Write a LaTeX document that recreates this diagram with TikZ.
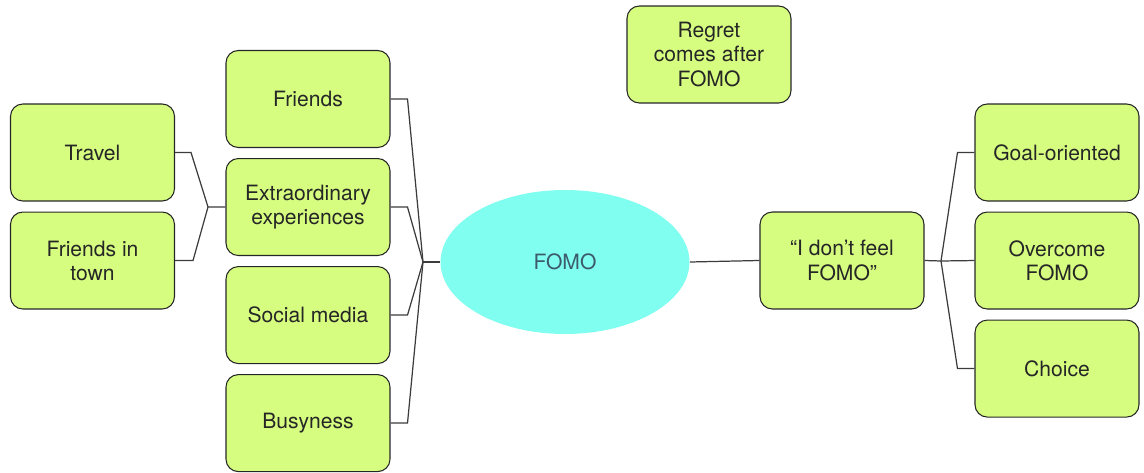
\documentclass[tikz,border=0pt]{standalone}
\usepackage{fontspec}
\setmainfont{TeX Gyre Heros}
\usetikzlibrary{positioning, shapes.geometric}
\definecolor{leafgreen}{RGB}{214,253,128}
\definecolor{fomocyan}{RGB}{128,255,240}
\definecolor{wiregray}{RGB}{60,60,60}
\definecolor{fomotext}{RGB}{60,90,105}

\tikzset{
  idea/.style={draw=black!85, line width=0.6pt, fill=leafgreen, rounded corners=7pt,
    minimum width=3.28cm, minimum height=1.94cm, align=center, inner sep=2pt,
    text=black!85, font=\fontsize{12}{13.7}\selectfont},
  hub/.style={ellipse, fill=fomocyan, minimum width=4.98cm, minimum height=2.88cm,
    text=fomotext, font=\fontsize{12}{13.7}\selectfont},
  wire/.style={draw=wiregray, line width=0.7pt},
}

\begin{document}
\begin{tikzpicture}[x=0.02cm, y=-0.02cm]
   \useasboundingbox (0,0) rectangle (1144,473);
   \node[hub] (fomo) at (565,262) {FOMO};
   % causes
   \node[idea] (friends) at (308,99) {Friends};
   \node[idea] (extra) [below=0.2cm of friends] {Extraordinary\\experiences};
   \node[idea] (social) [below=0.2cm of extra] {Social media};
   \node[idea] (busy) [below=0.2cm of social] {Busyness};
   \node[idea] (travel) at (92.5,152.5) {Travel};
   \node[idea] (town) [below=0.2cm of travel] {Friends in\\town};
   % other side
   \node[idea] (regret) at (709,54.5) {Regret\\comes after\\FOMO};
   \node[idea] (nofomo) at (842,260.5) {“I don’t feel\\FOMO”};
   \node[idea] (goal) at (1057,152.5) {Goal-oriented};
   \node[idea] (overcome) [below=0.2cm of goal] {Overcome\\FOMO};
   \node[idea] (choice) [below=0.2cm of overcome] {Choice};
   % junctions
   \coordinate (jL) at (208,207);
   \coordinate (jM) at (423,262);
   \coordinate (jR) at (941,261);
   \draw[wire] (travel.east) -- ++(16,0) -- (jL) -- (extra.west);
   \draw[wire] (town.east) -- ++(18,0) -- (jL);
   \foreach \n in {friends, extra, social, busy}
     \draw[wire] (\n.east) -- ++(17,0) -- (jM);
   \draw[wire] (jM) -- (fomo.west);
   \draw[wire] (fomo.east) -- (nofomo.west);
   \draw[wire] (nofomo.east) -- (jR) -- (overcome.west);
   \foreach \n in {goal, choice}
     \draw[wire] (\n.west) -- ++(-17,0) -- (jR);
\end{tikzpicture}
\end{document}
